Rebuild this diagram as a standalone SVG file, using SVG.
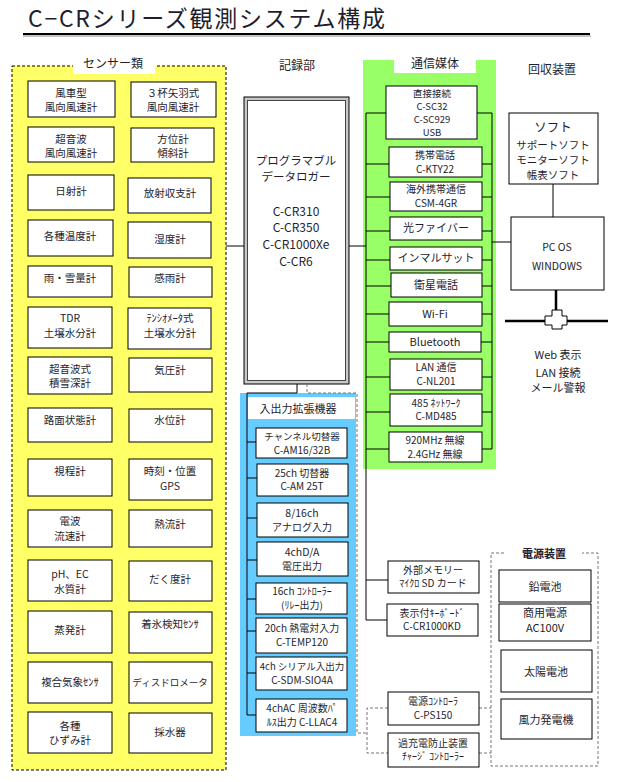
<svg xmlns="http://www.w3.org/2000/svg" width="622" height="782" viewBox="0 0 622 782">
<style>
text{font-family:"Noto Sans CJK JP","Noto Sans",sans-serif;fill:#1e1e2e;text-anchor:middle}
.s{font-size:10.5px}
.m{font-size:11px}
.b{font-size:10px}
.lb{font-size:12px}
.box{fill:#fff;stroke:#000;stroke-width:1}
.ln{stroke:#000;stroke-width:1;fill:none}
.dash{stroke:#777;stroke-width:1;stroke-dasharray:3,2;fill:none}
</style>
<rect width="622" height="782" fill="#fff"/>
<g id="title">
<text x="28" y="27" style="font-size:23px;text-anchor:start" textLength="357" lengthAdjust="spacing">C−CRシリーズ観測システム構成</text>
<line x1="23" y1="36" x2="591" y2="36" stroke="#b0b0b0" stroke-width="1.5"/>
<line x1="23" y1="34" x2="590" y2="34" stroke="#000" stroke-width="2"/>
</g>
<g id="sensors">
<rect x="12" y="66" width="214" height="704" fill="#ffff66" stroke="#000" stroke-width="1" stroke-dasharray="3,2"/>
<rect x="73" y="55" width="82" height="19" fill="#fff"/>
<text class="lb" x="113" y="68">センサー類</text>
<g id="s01"><rect class="box" x="28" y="81" width="87" height="36"/><text class="s" x="71" y="97">風車型</text><text class="s" x="71" y="111">風向風速計</text></g>
<g id="s02"><rect class="box" x="131" y="82" width="85" height="35"/><text class="s" x="173" y="97">３杯矢羽式</text><text class="s" x="173" y="111">風向風速計</text></g>
<g id="s03"><rect class="box" x="28" y="127" width="86" height="35"/><text class="s" x="71" y="143">超音波</text><text class="s" x="71" y="157">風向風速計</text></g>
<g id="s04"><rect class="box" x="131" y="128" width="83" height="34"/><text class="s" x="173" y="143">方位計</text><text class="s" x="173" y="157">傾斜計</text></g>
<g id="s05"><rect class="box" x="28" y="175" width="86" height="35"/><text class="s" x="71" y="195">日射計</text></g>
<g id="s06"><rect class="box" x="128" y="178" width="83" height="35"/><text class="s" x="170" y="197">放射収支計</text></g>
<g id="s07"><rect class="box" x="28" y="220" width="85" height="36"/><text class="s" x="70" y="240">各種温度計</text></g>
<g id="s08"><rect class="box" x="128" y="222" width="83" height="36"/><text class="s" x="170" y="243">湿度計</text></g>
<g id="s09"><rect class="box" x="28" y="266" width="84" height="31"/><text class="s" x="70" y="282">雨・雪量計</text></g>
<g id="s10"><rect class="box" x="129" y="267" width="83" height="30"/><text class="s" x="170" y="282">感雨計</text></g>
<g id="s11"><rect class="box" x="28" y="307" width="84" height="41"/><text class="s" x="70" y="322">TDR</text><text class="s" x="70" y="337">土壌水分計</text></g>
<g id="s12"><rect class="box" x="128" y="308" width="83" height="41"/><text class="s" x="170" y="322">ﾃﾝｼｵﾒｰﾀ式</text><text class="s" x="170" y="337">土壌水分計</text></g>
<g id="s13"><rect class="box" x="28" y="357" width="84" height="37"/><text class="s" x="70" y="373">超音波式</text><text class="s" x="70" y="387">積雪深計</text></g>
<g id="s14"><rect class="box" x="129" y="358" width="83" height="34"/><text class="s" x="170" y="374">気圧計</text></g>
<g id="s15"><rect class="box" x="28" y="408" width="84" height="34"/><text class="s" x="70" y="424">路面状態計</text></g>
<g id="s16"><rect class="box" x="129" y="409" width="83" height="33"/><text class="s" x="170" y="424">水位計</text></g>
<g id="s17"><rect class="box" x="28" y="459" width="84" height="37"/><text class="s" x="70" y="475">視程計</text></g>
<g id="s18"><rect class="box" x="129" y="459" width="83" height="41"/><text class="s" x="170" y="475">時刻・位置</text><text class="s" x="170" y="490">GPS</text></g>
<g id="s19"><rect class="box" x="28" y="510" width="84" height="37"/><text class="s" x="70" y="525">電波</text><text class="s" x="70" y="540">流速計</text></g>
<g id="s20"><rect class="box" x="129" y="510" width="83" height="37"/><text class="s" x="170" y="528">熱流計</text></g>
<g id="s21"><rect class="box" x="28" y="560" width="84" height="41"/><text class="s" x="70" y="578">pH、EC</text><text class="s" x="70" y="593">水質計</text></g>
<g id="s22"><rect class="box" x="129" y="561" width="83" height="40"/><text class="s" x="170" y="583">だく度計</text></g>
<g id="s23"><rect class="box" x="28" y="611" width="84" height="42"/><text class="s" x="70" y="634">蒸発計</text></g>
<g id="s24"><rect class="box" x="129" y="612" width="83" height="41"/><text class="s" x="170" y="628">着氷検知ｾﾝｻ</text></g>
<g id="s25"><rect class="box" x="28" y="662" width="84" height="41"/><text class="s" x="70" y="686">複合気象ｾﾝｻ</text></g>
<g id="s26"><rect class="box" x="129" y="662" width="83" height="41"/><text class="s" x="170" y="686" style="font-size:9.5px">ディスドロメータ</text></g>
<g id="s27"><rect class="box" x="28" y="712" width="84" height="41"/><text class="s" x="70" y="730">各種</text><text class="s" x="70" y="744">ひずみ計</text></g>
<g id="s28"><rect class="box" x="129" y="713" width="83" height="40"/><text class="s" x="170" y="736">採水器</text></g>
</g>
<g id="logger">
<text class="lb" x="297" y="70">記録部</text>
<rect x="244" y="97" width="105" height="287" fill="#c8c8c8" stroke="#000" stroke-width="1"/>
<rect x="247.5" y="100.5" width="98" height="280" fill="#fff" stroke="#444" stroke-width="1"/>
<text x="296" y="165" style="font-size:11.5px">プログラマブル</text>
<text x="296" y="181" style="font-size:11.5px">データロガー</text>
<text x="296" y="216" style="font-size:12px">C-CR310</text>
<text x="296" y="232" style="font-size:12px">C-CR350</text>
<text x="296" y="249" style="font-size:12px">C-CR1000Xe</text>
<text x="296" y="266" style="font-size:12px">C-CR6</text>
</g>
<g id="comm">
<rect x="363" y="60" width="133" height="409" fill="#99ff66"/>
<rect x="394" y="58" width="82" height="15" fill="#fff"/>
<text class="lb" x="435" y="68">通信媒体</text>
</g>
<g id="io">
<rect x="240" y="393" width="116" height="343" fill="#66ccff"/>
<rect x="248" y="397" width="107" height="22" fill="#fff"/>
<text class="m" x="298" y="413">入出力拡張機器</text>
</g>
<g id="connectors">
<line class="ln" x1="226" y1="246" x2="244" y2="246"/>
<line class="ln" x1="349" y1="246" x2="366" y2="246"/>
<polyline class="ln" points="366,113 366,620 387,620"/>
<polyline class="ln" points="297,384 297,393 247,393 247,715"/>
<polyline class="dash" points="307,384 307,393 357,393 357,733 367,733"/>
<polyline class="dash" points="388,708 367,708 367,753 388,753"/>
<line class="dash" x1="479" y1="708" x2="491" y2="708"/>
<line class="dash" x1="479" y1="753" x2="491" y2="753"/>
<line class="ln" x1="492" y1="113" x2="492" y2="449"/>
<line class="ln" x1="482" y1="449" x2="492" y2="449" stroke-width="2"/>
<line class="ln" x1="492" y1="242" x2="511" y2="242"/>
<line class="ln" x1="553" y1="184" x2="553" y2="217"/>
<line x1="556" y1="290" x2="556" y2="312" stroke="#000" stroke-width="2.5"/>
<line x1="505" y1="321" x2="608" y2="321" stroke="#000" stroke-width="2.5"/>
<g class="ln">
<line x1="366" y1="113" x2="386" y2="113"/><line x1="477" y1="113" x2="492" y2="113"/>
<line x1="366" y1="164" x2="389" y2="164"/><line x1="482" y1="164" x2="492" y2="164"/>
<line x1="366" y1="197" x2="390" y2="197"/><line x1="482" y1="197" x2="492" y2="197"/>
<line x1="366" y1="231" x2="390" y2="231"/><line x1="482" y1="231" x2="492" y2="231"/>
<line x1="366" y1="260" x2="390" y2="260"/><line x1="482" y1="260" x2="492" y2="260"/>
<line x1="366" y1="286" x2="391" y2="286"/><line x1="482" y1="286" x2="492" y2="286"/>
<line x1="366" y1="314" x2="389" y2="314"/><line x1="482" y1="314" x2="492" y2="314"/>
<line x1="366" y1="342" x2="389" y2="342"/><line x1="481" y1="342" x2="492" y2="342"/>
<line x1="366" y1="377" x2="390" y2="377"/><line x1="482" y1="377" x2="492" y2="377"/>
<line x1="366" y1="412" x2="390" y2="412"/><line x1="482" y1="412" x2="492" y2="412"/>
<line x1="366" y1="449" x2="389" y2="449"/>
<line x1="366" y1="580" x2="388" y2="580"/>
<line x1="247" y1="442" x2="256" y2="442"/>
<line x1="247" y1="478" x2="257" y2="478"/>
<line x1="247" y1="518" x2="257" y2="518"/>
<line x1="247" y1="560" x2="257" y2="560"/>
<line x1="247" y1="599" x2="256" y2="599"/>
<line x1="247" y1="631" x2="256" y2="631"/>
<line x1="247" y1="673" x2="256" y2="673"/>
<line x1="247" y1="715" x2="256" y2="715"/>
</g>
</g>
<g id="c01"><rect class="box" x="386" y="86" width="91" height="53"/><text x="432" y="96.5" style="font-size:9.5px">直接接続</text><text x="432" y="109.5" style="font-size:9.5px">C-SC32</text><text x="432" y="122.5" style="font-size:9.5px">C-SC929</text><text x="432" y="135.5" style="font-size:9.5px">USB</text></g>
<g id="c02"><rect class="box" x="389" y="147" width="93" height="30"/><text class="b" x="435" y="159">携帯電話</text><text class="b" x="435" y="172.5">C-KTY22</text></g>
<g id="c03"><rect class="box" x="390" y="182" width="92" height="29"/><text class="b" x="436" y="193">海外携帯通信</text><text class="b" x="436" y="206.5">CSM-4GR</text></g>
<g id="c04"><rect class="box" x="390" y="217" width="92" height="23"/><text class="m" x="436" y="232">光ファイバー</text></g>
<g id="c05"><rect class="box" x="390" y="247" width="92" height="23"/><text class="m" x="436" y="262">インマルサット</text></g>
<g id="c06"><rect class="box" x="391" y="273" width="91" height="24"/><text class="m" x="436" y="289">衛星電話</text></g>
<g id="c07"><rect class="box" x="389" y="302" width="93" height="24"/><text class="m" x="435" y="318">Wi-Fi</text></g>
<g id="c08"><rect class="box" x="389" y="332" width="92" height="20"/><text class="m" x="435" y="346">Bluetooth</text></g>
<g id="c09"><rect class="box" x="390" y="359" width="92" height="31"/><text class="b" x="436" y="371">LAN 通信</text><text class="b" x="436" y="384.5">C-NL201</text></g>
<g id="c10"><rect class="box" x="390" y="394" width="92" height="32"/><text class="b" x="436" y="406.5">485 ﾈｯﾄﾜｰｸ</text><text class="b" x="436" y="420">C-MD485</text></g>
<g id="c11"><rect class="box" x="389" y="432" width="93" height="30"/><text class="b" x="435" y="444">920MHz 無線</text><text class="b" x="435" y="457.5">2.4GHz 無線</text></g>
<g id="io01"><rect class="box" x="256" y="428" width="91" height="30"/><text class="b" x="302" y="440" style="font-size:9.5px">チャンネル切替器</text><text class="b" x="302" y="453.5">C-AM16/32B</text></g>
<g id="io02"><rect class="box" x="257" y="464" width="91" height="32"/><text class="b" x="302" y="476.5">25ch 切替器</text><text class="b" x="302" y="490">C-AM 25T</text></g>
<g id="io03"><rect class="box" x="257" y="503" width="91" height="34"/><text x="302" y="517" style="font-size:10.5px">8/16ch</text><text class="b" x="302" y="531">アナログ入力</text></g>
<g id="io04"><rect class="box" x="257" y="542" width="91" height="34"/><text x="302" y="556" style="font-size:10.5px">4chD/A</text><text class="b" x="302" y="570">電圧出力</text></g>
<g id="io05"><rect class="box" x="256" y="583" width="91" height="31"/><text class="b" x="302" y="595">16ch ｺﾝﾄﾛｰﾗｰ</text><text class="b" x="302" y="608.5">(ﾘﾚｰ出力)</text></g>
<g id="io06"><rect class="box" x="256" y="618" width="91" height="35"/><text class="b" x="302" y="632">20ch 熱電対入力</text><text class="b" x="302" y="645.5">C-TEMP120</text></g>
<g id="io07"><rect class="box" x="256" y="657" width="91" height="33"/><text class="b" x="302" y="670" style="font-size:9.5px">4ch シリアル入出力</text><text class="b" x="302" y="683.5">C-SDM-SIO4A</text></g>
<g id="io08"><rect class="box" x="256" y="699" width="91" height="33"/><text class="b" x="302" y="712">4chAC 周波数ﾊﾟ</text><text class="b" x="302" y="725.5">ﾙｽ出力 C-LLAC4</text></g>
<g id="mem"><rect class="box" x="388" y="561" width="91" height="32"/><text class="b" x="433" y="573.5">外部メモリー</text><text class="b" x="433" y="587">ﾏｲｸﾛ SD カード</text></g>
<g id="kd"><rect class="box" x="387" y="604" width="91" height="32"/><text class="b" x="432" y="616.5">表示付ｷｰﾎﾞｰﾄﾞ</text><text class="b" x="432" y="630">C-CR1000KD</text></g>
<g id="ps"><rect class="box" x="388" y="692" width="91" height="33"/><text class="b" x="433" y="705">電源ｺﾝﾄﾛｰﾗ</text><text class="b" x="433" y="718.5">C-PS150</text></g>
<g id="cc"><rect class="box" x="388" y="733" width="91" height="34"/><text class="b" x="433" y="746.5">過充電防止装置</text><text class="b" x="433" y="760">ﾁｬｰｼﾞ ｺﾝﾄﾛｰﾗｰ</text></g>
<g id="power">
<rect x="491" y="553" width="107" height="213" fill="none" stroke="#777" stroke-width="1" stroke-dasharray="3,2"/>
<rect x="506" y="548" width="76" height="10" fill="#fff"/>
<text class="m" x="544" y="558" style="font-weight:bold">電源装置</text>
<g id="p1"><rect class="box" x="499" y="570" width="92" height="32"/><text class="m" x="545" y="591">鉛電池</text></g>
<g id="p2"><rect class="box" x="499" y="604" width="92" height="37"/><text class="m" x="545" y="617">商用電源</text><text class="m" x="545" y="632">AC100V</text></g>
<g id="p3"><rect class="box" x="501" y="650" width="91" height="42"/><text class="m" x="546" y="676">太陽電池</text></g>
<g id="p4"><rect class="box" x="501" y="699" width="91" height="40"/><text class="m" x="546" y="724">風力発電機</text></g>
</g>
<g id="recovery">
<text class="lb" x="552" y="74">回収装置</text>
</g>
<g id="soft"><rect class="box" x="509" y="113" width="89" height="71"/><text x="553" y="132" style="font-size:12.5px">ソフト</text><text class="s" x="553" y="149">サポートソフト</text><text class="s" x="553" y="164">モニターソフト</text><text class="s" x="553" y="179">帳表ソフト</text></g>
<g id="pc"><rect class="box" x="511" y="217" width="93" height="73"/><text class="s" x="557" y="251">PC OS</text><text class="s" x="557" y="270">WINDOWS</text></g>
<g id="hub"><polygon points="552,310 562,310 562,316 567,316 567,325 562,325 562,329 552,329 552,325 545,325 545,316 552,316" fill="#fff" stroke="#000" stroke-width="1"/></g>
<g id="net"><text class="m" x="558" y="359">Web 表示</text><text class="m" x="558" y="377">LAN 接続</text><text class="m" x="558" y="392">メール警報</text></g>
</svg>
